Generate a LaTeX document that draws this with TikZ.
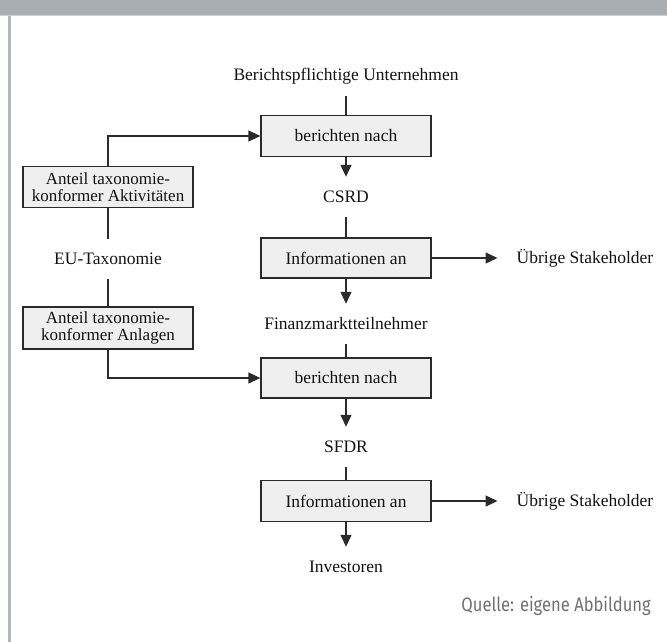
\documentclass[tikz,border=0pt]{standalone}
\usepackage{fontspec}
\setmainfont{Liberation Serif}
\newfontfamily\quellefont[FakeStretch=0.85]{Fira Sans}
\usetikzlibrary{arrows.meta}
\definecolor{barcol}{HTML}{A9AEB2}
\definecolor{barline}{HTML}{CDD0D3}
\definecolor{sidecol}{HTML}{B3B7BB}
\definecolor{boxfill}{HTML}{EFEFEF}
\definecolor{boxline}{HTML}{2A2A2A}
\definecolor{quellecol}{HTML}{707070}
\begin{document}
\begin{tikzpicture}[x=1pt,y=-1pt,
  every node/.style={font=\fontsize{17.5}{17.5}\selectfont, text=black!93},
  flowbox/.style={draw=boxline, fill=boxfill, line width=1.3pt, minimum width=170pt, minimum height=41pt, inner sep=1pt, align=center},
  lbl/.style={inner sep=0pt, minimum height=40pt},
  conn/.style={draw=boxline, line width=1.3pt},
  arr/.style={conn, -{Triangle[length=12pt,width=11pt]}}
]
\useasboundingbox (0,0) rectangle (667,642);
% frame
\fill[barcol] (0,0) rectangle (667,15);
\fill[barline] (0,15) rectangle (667,16.5);
\fill[sidecol] (8,16.5) rectangle (11,642);

% right column
\node[lbl] (bu) at (346,76) {Berichtspflichtige Unternehmen};
\node[flowbox] (b1) at (346,136) {berichten nach};
\node[lbl] (csrd) at (346,197) {CSRD};
\node[flowbox, minimum height=40pt] (i1) at (346,258) {Informationen an};
\node[lbl] (us1) at (585,258) {Übrige Stakeholder};
\node[lbl] (fm) at (346,324) {Finanzmarktteilnehmer};
\node[flowbox, minimum height=40pt] (b2) at (346,378) {berichten nach};
\node[lbl] (sfdr) at (346,447) {SFDR};
\node[flowbox] (i2) at (346,501) {Informationen an};
\node[lbl] (us2) at (585,501) {Übrige Stakeholder};
\node[lbl] (inv) at (346,567) {Investoren};

% left column
\node[flowbox, font=\fontsize{17}{16.5}\selectfont] (a1) at (108,187) {Anteil taxonomie-\\konformer Aktivitäten};
\node[lbl] (eu) at (108,259) {EU-Taxonomie};
\node[flowbox, font=\fontsize{17}{16.5}\selectfont, minimum height=42pt] (a2) at (108,328) {Anteil taxonomie-\\konformer Anlagen};

% source
\node[anchor=east, inner sep=0pt, text=quellecol, font=\quellefont\fontsize{19.5}{19.5}\selectfont] (q) at (651,606) {Quelle: eigene Abbildung};

% connectors
\draw[conn] (bu.south) -- (b1.north);
\draw[arr] (b1.south) -- (csrd.north);
\draw[conn] (csrd.south) -- (i1.north);
\draw[arr] (i1.south) -- (fm.north);
\draw[arr, shorten >=19pt] (i1.east) -- (us1.west);
\draw[conn] (fm.south) -- (b2.north);
\draw[arr] (b2.south) -- (sfdr.north);
\draw[conn] (sfdr.south) -- (i2.north);
\draw[arr] (i2.south) -- (inv.north);
\draw[arr, shorten >=19pt] (i2.east) -- (us2.west);

\draw[arr] (a1.north) |- (b1.west);
\draw[conn] (a1.south) -- (eu.north);
\draw[conn] (eu.south) -- (a2.north);
\draw[arr] (a2.south) |- (b2.west);
\end{tikzpicture}
\end{document}
